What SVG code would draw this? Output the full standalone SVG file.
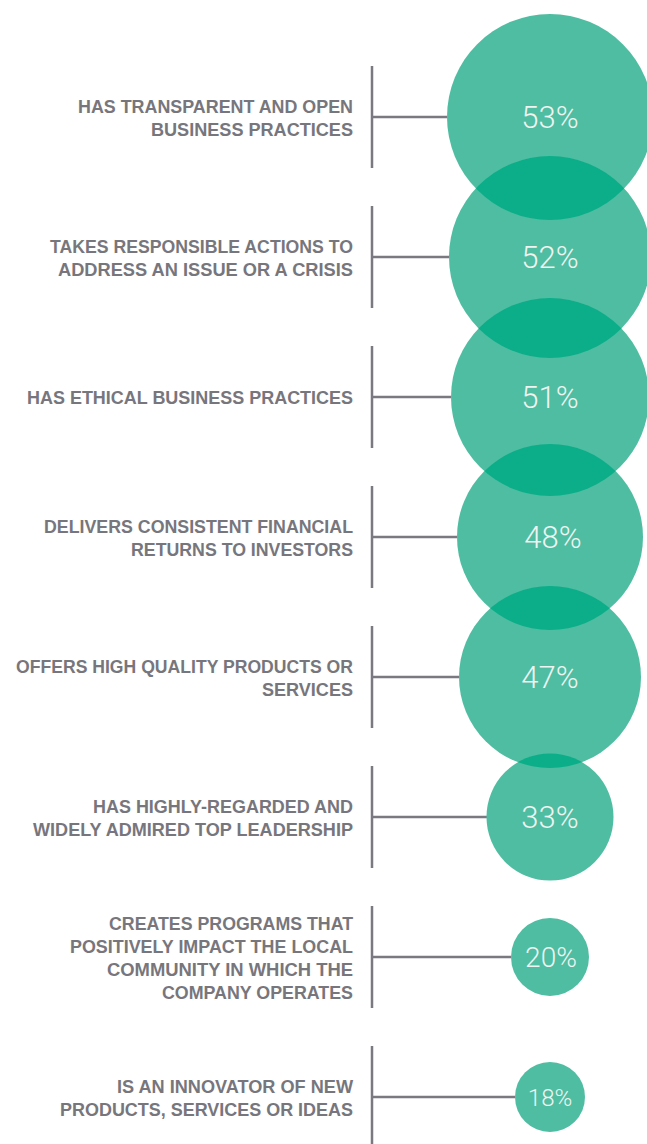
<svg xmlns="http://www.w3.org/2000/svg" width="647" height="1144" viewBox="0 0 647 1144">
<style>
.lbl{font-family:"Liberation Sans",Arial,sans-serif;font-weight:bold;font-size:19px;fill:#77767c;text-anchor:end}
.pct{font-family:Roboto,"Liberation Sans",sans-serif;font-weight:300;fill:#eef4f1;text-anchor:middle}
.bub{fill:#4fbda1}
.lens{fill:#0bae89}
.ln{stroke:#7a7980;stroke-width:2.5;fill:none}
</style>
<defs>
<clipPath id="c1"><circle cx="550" cy="117" r="103"/></clipPath>
<clipPath id="c2"><circle cx="550" cy="257" r="101"/></clipPath>
<clipPath id="c3"><circle cx="550" cy="397" r="99"/></clipPath>
<clipPath id="c4"><circle cx="550" cy="537" r="93"/></clipPath>
<clipPath id="c5"><circle cx="550" cy="677" r="91"/></clipPath>
</defs>
<g id="connectors">
<path class="ln" d="M372 66V168M372 117H447"/>
<path class="ln" d="M372 206V308M372 257H449"/>
<path class="ln" d="M372 346V448M372 397H451"/>
<path class="ln" d="M372 486V588M372 537H457"/>
<path class="ln" d="M372 626V728M372 677H459"/>
<path class="ln" d="M372 766V868M372 817H487"/>
<path class="ln" d="M372 906V1008M372 957H511"/>
<path class="ln" d="M372 1046V1144M372 1097H515"/>
</g>
<g id="bubbles">
<circle class="bub" cx="550" cy="117" r="103"/>
<circle class="bub" cx="550" cy="257" r="101"/>
<circle class="bub" cx="550" cy="397" r="99"/>
<circle class="bub" cx="550" cy="537" r="93"/>
<circle class="bub" cx="550" cy="677" r="91"/>
<circle class="bub" cx="550" cy="817" r="63.5"/>
<circle class="bub" cx="550" cy="957" r="39"/>
<circle class="bub" cx="550" cy="1097" r="35"/>
<circle class="lens" cx="550" cy="257" r="101" clip-path="url(#c1)"/>
<circle class="lens" cx="550" cy="397" r="99" clip-path="url(#c2)"/>
<circle class="lens" cx="550" cy="537" r="93" clip-path="url(#c3)"/>
<circle class="lens" cx="550" cy="677" r="91" clip-path="url(#c4)"/>
<circle class="lens" cx="550" cy="817" r="63.5" clip-path="url(#c5)"/>
</g>
<g id="n1">
<text class="lbl" x="353" y="112.5" textLength="275" lengthAdjust="spacingAndGlyphs">HAS TRANSPARENT AND OPEN</text>
<text class="lbl" x="353" y="135.5" textLength="202" lengthAdjust="spacingAndGlyphs">BUSINESS PRACTICES</text>
<text class="pct" x="550" y="128" font-size="31">53%</text>
</g>
<g id="n2">
<text class="lbl" x="353" y="252.5" textLength="303" lengthAdjust="spacingAndGlyphs">TAKES RESPONSIBLE ACTIONS TO</text>
<text class="lbl" x="353" y="275.5" textLength="295" lengthAdjust="spacingAndGlyphs">ADDRESS AN ISSUE OR A CRISIS</text>
<text class="pct" x="550" y="268" font-size="31">52%</text>
</g>
<g id="n3">
<text class="lbl" x="353" y="404" textLength="326" lengthAdjust="spacingAndGlyphs">HAS ETHICAL BUSINESS PRACTICES</text>
<text class="pct" x="550" y="408" font-size="31">51%</text>
</g>
<g id="n4">
<text class="lbl" x="353" y="532.5" textLength="309" lengthAdjust="spacingAndGlyphs">DELIVERS CONSISTENT FINANCIAL</text>
<text class="lbl" x="353" y="555.5" textLength="222" lengthAdjust="spacingAndGlyphs">RETURNS TO INVESTORS</text>
<text class="pct" x="553" y="548" font-size="31">48%</text>
</g>
<g id="n5">
<text class="lbl" x="353" y="672.5" textLength="337" lengthAdjust="spacingAndGlyphs">OFFERS HIGH QUALITY PRODUCTS OR</text>
<text class="lbl" x="353" y="695.5" textLength="91" lengthAdjust="spacingAndGlyphs">SERVICES</text>
<text class="pct" x="550" y="688" font-size="31">47%</text>
</g>
<g id="n6">
<text class="lbl" x="353" y="812.5" textLength="260" lengthAdjust="spacingAndGlyphs">HAS HIGHLY-REGARDED AND</text>
<text class="lbl" x="353" y="835.5" textLength="320" lengthAdjust="spacingAndGlyphs">WIDELY ADMIRED TOP LEADERSHIP</text>
<text class="pct" x="550" y="828" font-size="31">33%</text>
</g>
<g id="n7">
<text class="lbl" x="353" y="929.5" textLength="244" lengthAdjust="spacingAndGlyphs">CREATES PROGRAMS THAT</text>
<text class="lbl" x="353" y="952.5" textLength="283" lengthAdjust="spacingAndGlyphs">POSITIVELY IMPACT THE LOCAL</text>
<text class="lbl" x="353" y="975.5" textLength="246" lengthAdjust="spacingAndGlyphs">COMMUNITY IN WHICH THE</text>
<text class="lbl" x="353" y="998.5" textLength="191" lengthAdjust="spacingAndGlyphs">COMPANY OPERATES</text>
<text class="pct" x="551" y="967" font-size="28">20%</text>
</g>
<g id="n8">
<text class="lbl" x="353" y="1092.5" textLength="236" lengthAdjust="spacingAndGlyphs">IS AN INNOVATOR OF NEW</text>
<text class="lbl" x="353" y="1115.5" textLength="293" lengthAdjust="spacingAndGlyphs">PRODUCTS, SERVICES OR IDEAS</text>
<text class="pct" x="550" y="1106" font-size="24">18%</text>
</g>
</svg>
